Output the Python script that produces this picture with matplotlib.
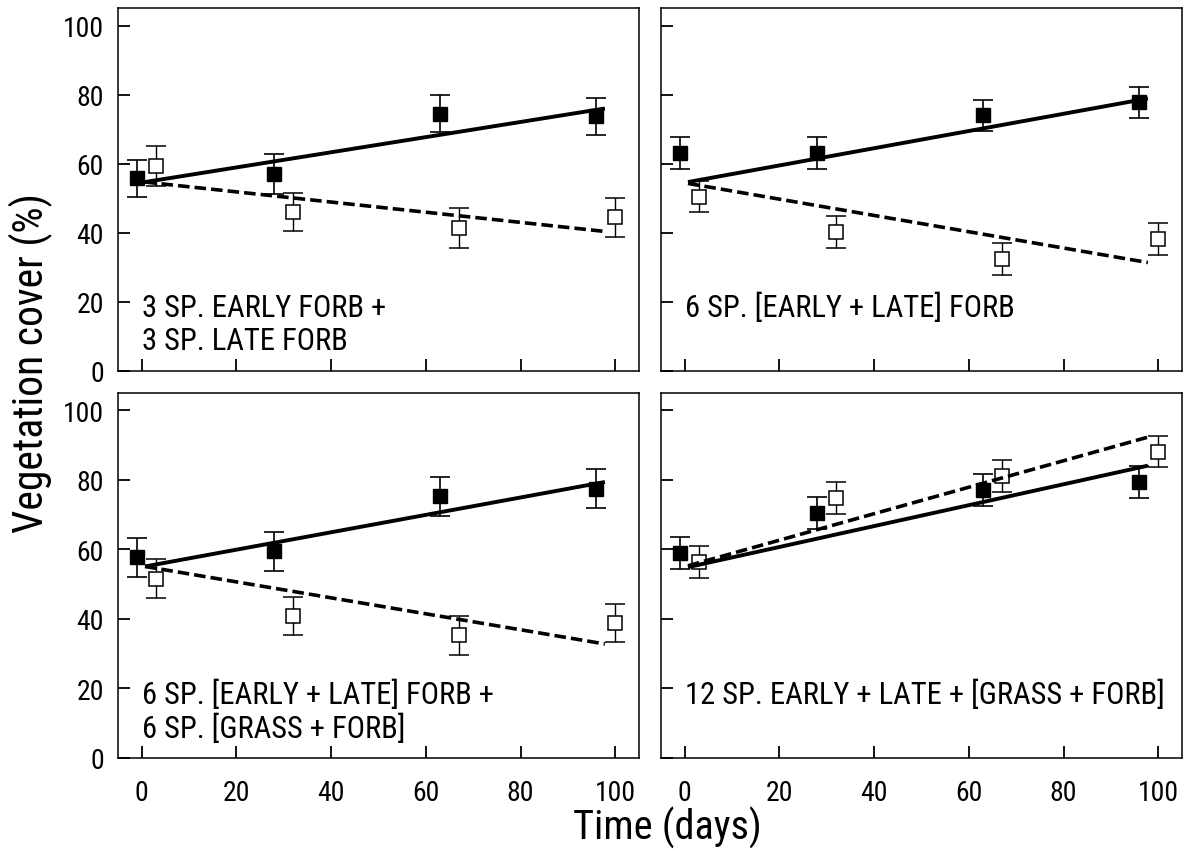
import matplotlib.pyplot as plt
from matplotlib import font_manager
import numpy as np

# pick a narrow sans if one is around
fonts = font_manager.fontManager.ttflist
names = {f.name for f in fonts}
stretch = 'normal'
family = 'DejaVu Sans'
for cand in ['Liberation Sans Narrow', 'Roboto Condensed', 'Open Sans Condensed']:
    if cand in names:
        family = cand
        break
else:
    cond = [f for f in fonts if 'condensed' in str(f.stretch).lower()
            or 'condensed' in f.fname.lower() or 'narrow' in f.fname.lower()]
    if cond:
        family = cond[0].name
        stretch = 'condensed'
plt.rcParams['font.family'] = [family, 'DejaVu Sans']
plt.rcParams['font.stretch'] = stretch

# sampling days (filled = solid line group, open = dashed line group, offset a bit)
days_filled = [-1, 28, 63, 96]
days_open = [3, 32, 67, 100]

# mean cover (%) and error bar half-widths, one list per panel
filled_mean = [
    [55.8, 57.0, 74.5, 73.7],
    [63.2, 63.2, 74.0, 77.8],
    [57.8, 59.5, 75.3, 77.4],
    [59.1, 70.5, 77.2, 79.4],
]
filled_err = [
    [5.4, 5.7, 5.4, 5.4],
    [4.6, 4.6, 4.5, 4.5],
    [5.6, 5.6, 5.6, 5.6],
    [4.6, 4.7, 4.6, 4.6],
]
open_mean = [
    [59.4, 46.0, 41.4, 44.5],
    [50.4, 40.3, 32.4, 38.2],
    [51.6, 40.8, 35.3, 38.8],
    [56.4, 74.9, 81.2, 88.1],
]
open_err = [
    [5.8, 5.5, 5.7, 5.7],
    [4.5, 4.6, 4.7, 4.7],
    [5.6, 5.5, 5.6, 5.5],
    [4.6, 4.6, 4.6, 4.5],
]

# fitted regression lines: value at start and end of the fit range
fit_days = [0.7, 97.8]
solid_fit = [[54.7, 76.0], [54.7, 78.9], [55.1, 79.4], [54.9, 84.1]]
dashed_fit = [[54.7, 40.4], [54.3, 31.4], [55.1, 32.8], [55.3, 92.3]]

panel_labels = [
    ["3 SP. EARLY FORB +", "3 SP. LATE FORB"],
    ["6 SP. [EARLY + LATE] FORB"],
    ["6 SP. [EARLY + LATE] FORB +", "6 SP. [GRASS + FORB]"],
    ["12 SP. EARLY + LATE + [GRASS + FORB]"],
]

xticks = [0, 20, 40, 60, 80, 100]
yticks = [0, 20, 40, 60, 80, 100]

fig = plt.figure(figsize=(11.9, 8.53), dpi=100)

W, H = 1190, 853
lefts = [118, 661]
boxes = [(9.3, 372), (394, 759)]
axes = []
for r, (top, bot) in enumerate(boxes):
    for c, left in enumerate(lefts):
        ax = fig.add_axes([left / W, (H - bot) / H, 521 / W, (bot - top) / H])
        axes.append(ax)

for i, ax in enumerate(axes):
    ax.errorbar(days_filled, filled_mean[i], yerr=filled_err[i], fmt='s',
                color='black', ms=10.5, ecolor='black', elinewidth=1.2,
                capsize=7.5, capthick=1.2, zorder=3)
    ax.errorbar(days_open, open_mean[i], yerr=open_err[i], fmt='s',
                mfc='white', mec='black', mew=1.1, ms=10, ecolor='black',
                elinewidth=1.0, capsize=7.5, capthick=1.0, zorder=3)
    ax.plot(fit_days, solid_fit[i], color='black', lw=2.8,
            solid_capstyle='butt', zorder=4)
    ax.plot(fit_days, dashed_fit[i], color='black', lw=2.6,
            dashes=(3.2, 1.4), zorder=4)

    yline = [18.5, 8.7]
    for k, s in enumerate(panel_labels[i]):
        ax.text(0, yline[k], s, fontsize=22, va='center', ha='left')

    ax.set_xlim(-5, 105)
    ax.set_ylim(0, 105)
    ax.set_xticks(xticks)
    ax.set_yticks(yticks)
    ax.tick_params(direction='in', length=8.5, width=1.3, top=False,
                   right=False, labelsize=20)
    ax.tick_params(axis='x', pad=15)
    ax.tick_params(axis='y', pad=10)
    if i < 2:
        ax.set_xticklabels([])
    if i % 2 == 1:
        ax.set_yticklabels([])
    for sp in ax.spines.values():
        sp.set_linewidth(1.1)

fig.text(667 / W, 1 - 828 / H, "Time (days)", fontsize=29,
         ha='center', va='center')
fig.text(31 / W, 1 - 363 / H, "Vegetation cover (%)", fontsize=30,
         ha='center', va='center', rotation=90)

fig.savefig('out.png', dpi=100)
